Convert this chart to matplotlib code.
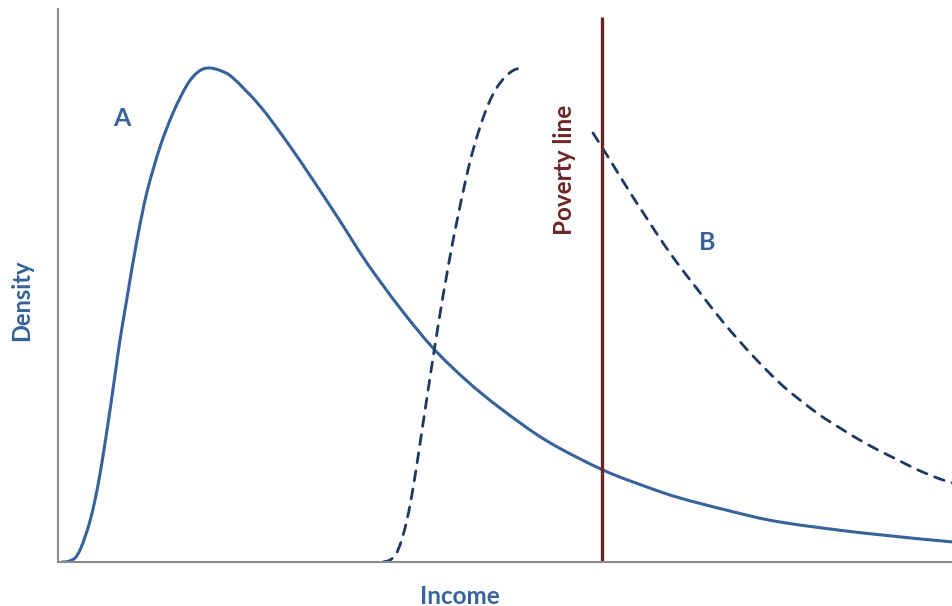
import matplotlib
matplotlib.use("Agg")
import matplotlib.pyplot as plt
import numpy as np
from matplotlib.path import Path
from matplotlib.patches import PathPatch

# units are arbitrary (no ticks on the chart)
# distribution A (solid)
a_income = [4, 10, 17, 22, 27, 32, 37, 42, 47, 52, 57, 62, 69, 79, 89, 102, 115, 129,
            140, 150, 162, 175, 202, 229, 255, 282, 309, 342, 375, 409, 442, 489, 545,
            589, 622, 672, 722, 805, 895]
a_density = [0, 0.5, 4, 12, 25, 41, 62, 88, 119, 152, 187, 222, 264, 322, 370, 415, 449,
             477, 490, 494, 491.5, 484, 456, 420, 382, 341, 299, 254, 214, 181, 154, 121,
             92, 75, 64, 51, 40, 29, 20]

# distribution B (dashed), drawn in two pieces
b_left_income = [325, 332, 338, 343, 348, 353, 358, 363, 368, 373, 378, 383, 388, 394,
                 400, 407, 414, 422, 430, 438, 447, 456, 464]
b_left_density = [0, 2, 8, 20, 38, 62, 92, 125, 158, 191, 223, 254, 283, 316, 346, 379,
                  408, 435, 457, 473, 485, 492, 494]
b_right_income = [535, 547, 560, 573, 586, 599, 612, 626, 640, 665, 695, 725, 759, 782,
                  800, 820, 840, 860, 882, 895]
b_right_density = [429, 410, 389, 368, 348, 328, 309, 290, 272, 240, 206, 176, 149, 134,
                   123, 112, 102, 92, 83, 79]

poverty_line = 544.5
poverty_top = 545

blue = "#37629a"
navy = "#1f3a60"
maroon = "#6b2628"
font = ["Lato", "DejaVu Sans"]


def smooth_path(xs, ys):
    # Catmull-Rom through the points, drawn as cubic Bezier segments
    p = np.column_stack([xs, ys]).astype(float)
    ext = np.vstack([p[0], p, p[-1]])
    verts = [p[0]]
    codes = [Path.MOVETO]
    for i in range(len(p) - 1):
        p0, p1, p2, p3 = ext[i], ext[i + 1], ext[i + 2], ext[i + 3]
        verts += [p1 + (p2 - p0) / 6, p2 - (p3 - p1) / 6, p2]
        codes += [Path.CURVE4] * 3
    return Path(verts, codes)


fig = plt.figure(figsize=(9.53, 6.06), dpi=100)
ax = fig.add_axes([58 / 953, 44 / 606, 895 / 953, 553 / 606])

ax.add_patch(PathPatch(smooth_path(a_income, a_density), fill=False,
                       edgecolor=blue, lw=2.2, capstyle="round"))
for xs, ys in [(b_left_income, b_left_density), (b_right_income, b_right_density)]:
    ax.add_patch(PathPatch(smooth_path(xs, ys), fill=False, edgecolor=navy, lw=2.0,
                           linestyle=(0, (3.6, 3.0)), capstyle="round"))
ax.vlines(poverty_line, 0, poverty_top, color=maroon, lw=2.4)

ax.text(64, 444, "A", color=blue, fontsize=18, fontweight="bold", family=font,
        ha="center", va="center")
ax.text(649, 320, "B", color=blue, fontsize=18, fontweight="bold", family=font,
        ha="center", va="center")
ax.text(507, 392, "Poverty line", color=maroon, fontsize=17.5, fontweight="bold",
        family=font, rotation=90, ha="center", va="center")

ax.set_xlim(0, 895)
ax.set_ylim(0, 553)
for side in ["top", "right"]:
    ax.spines[side].set_visible(False)
for side in ["left", "bottom"]:
    ax.spines[side].set_color("#8c8c8c")
    ax.spines[side].set_linewidth(1.5)
ax.set_xticks([])
ax.set_yticks([])

fig.text(460 / 953, 1 - 596 / 606, "Income", color=blue, fontsize=17.5, fontweight="bold",
         family=font, ha="center", va="center")
fig.text(22 / 953, 1 - 300 / 606, "Density", color=blue, fontsize=17, fontweight="bold",
         family=font, rotation=90, ha="center", va="center")

fig.savefig("out.png", dpi=100)
